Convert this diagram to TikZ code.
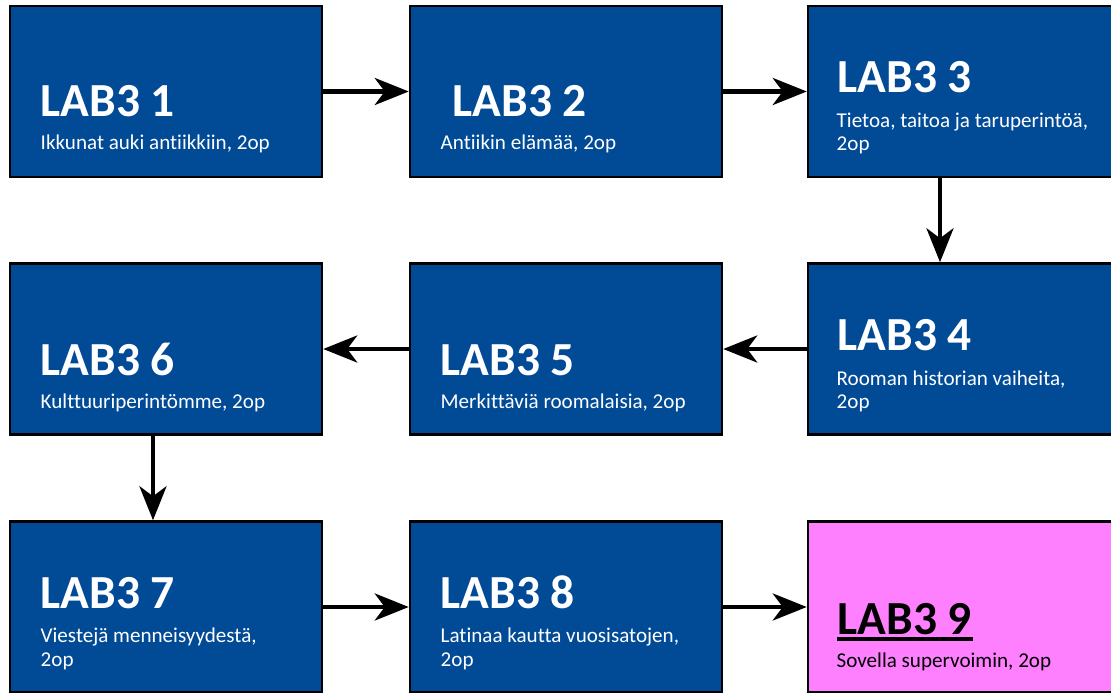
\documentclass[tikz,border=0pt]{standalone}
\usepackage{fontspec}
\setmainfont{Carlito}[Ligatures=NoCommon]
\usetikzlibrary{arrows.meta,calc}
\definecolor{labblue}{HTML}{004A96}
\definecolor{labpink}{HTML}{FF80FF}
\tikzset{
  lab/.style={draw=black,line width=0.7pt,fill=labblue,minimum width=3.12cm,minimum height=1.71cm,inner sep=0pt},
  ttl/.style={anchor=base west,text=white,font=\fontsize{13.5}{16}\selectfont\bfseries,inner sep=0pt},
  sub/.style={anchor=base west,text=white,font=\fontsize{6}{6.55}\selectfont,align=left,inner sep=0pt},
  arr/.style={line width=1.3pt,-{Stealth[length=0.34cm,width=0.27cm,inset=0.1cm]}}
}
\begin{document}
\begin{tikzpicture}
\useasboundingbox (0,0) rectangle (11.11,-6.93);
\clip (0,0) rectangle (11.11,-6.93);
% boxes
\node[lab] (l1) at (1.66,-0.915) {};
\node[lab] (l2) at (5.66,-0.915) {};
\node[lab] (l3) at (9.64,-0.915) {};
\node[lab] (l4) at (9.64,-3.49) {};
\node[lab] (l5) at (5.66,-3.49) {};
\node[lab] (l6) at (1.66,-3.49) {};
\node[lab] (l7) at (1.66,-6.07) {};
\node[lab] (l8) at (5.66,-6.07) {};
\node[lab,fill=labpink] (l9) at (9.64,-6.07) {};
% texts
\node[ttl] (t1) at (0.40,-1.17) {LAB3 1};
\node[sub] (s1) at (0.40,-1.50) {Ikkunat auki antiikkiin, 2op};
\node[ttl] (t2) at (4.52,-1.17) {LAB3 2};
\node[sub] (s2) at (4.40,-1.50) {Antiikin elämää, 2op};
\node[ttl] (t3) at (8.37,-0.93) {LAB3 3};
\node[sub] (s3) at (8.36,-1.51) {Tietoa, taitoa ja taruperintöä,\\2op};
\node[ttl] (t4) at (8.37,-3.51) {LAB3 4};
\node[sub] (s4) at (8.36,-4.09) {Rooman historian vaiheita,\\2op};
\node[ttl] (t5) at (4.40,-3.75) {LAB3 5};
\node[sub] (s5) at (4.40,-4.08) {Merkittäviä roomalaisia, 2op};
\node[ttl] (t6) at (0.40,-3.75) {LAB3 6};
\node[sub] (s6) at (0.40,-4.08) {Kulttuuriperintömme, 2op};
\node[ttl] (t7) at (0.40,-6.08) {LAB3 7};
\node[sub] (s7) at (0.40,-6.66) {Viestejä menneisyydestä,\\2op};
\node[ttl] (t8) at (4.40,-6.08) {LAB3 8};
\node[sub] (s8) at (4.40,-6.66) {Latinaa kautta vuosisatojen,\\2op};
\node[ttl,text=black] (t9) at (8.37,-6.34) {LAB3 9};
\node[sub,text=black] (s9) at (8.36,-6.67) {Sovella supervoimin, 2op};
\draw[line width=1.15pt] ($(t9.base west)+(0,-0.05)$) -- ($(t9.base east)+(0,-0.05)$);
% arrows
\coordinate (c34) at (9.40,0);
\coordinate (c67) at (1.53,0);
\draw[arr] (l1) -- (l2);
\draw[arr] (l2) -- (l3);
\draw[arr] (l3.south -| c34) -- (l4.north -| c34);
\draw[arr] (l4) -- (l5);
\draw[arr] (l5) -- (l6);
\draw[arr] (l6.south -| c67) -- (l7.north -| c67);
\draw[arr] (l7) -- (l8);
\draw[arr] (l8) -- (l9);
\end{tikzpicture}
\end{document}
